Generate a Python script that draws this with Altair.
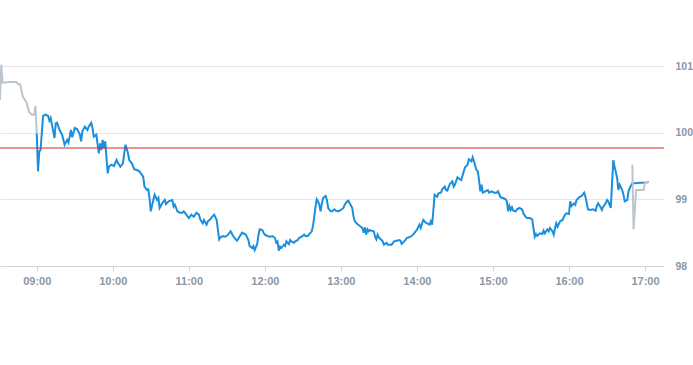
import altair as alt
import pandas as pd

DAY = "2024-01-02"

# Pre-market (grey)
pre_times = ["08:31", "08:32", "08:33", "08:39", "08:44", "08:45", "08:47", "08:49", "08:52", "08:54",
             "08:56", "08:58", "08:59", "09:00"]
pre_vals = [100.49, 101.02, 100.75, 100.76, 100.76, 100.73, 100.72, 100.54, 100.45, 100.31,
            100.27, 100.27, 100.40, 99.99]

# Regular session (blue)
reg_times = [
    "09:00", "09:01", "09:02", "09:03", "09:05", "09:07", "09:09", "09:10", "09:11", "09:12",
    "09:14", "09:15", "09:16", "09:18", "09:20", "09:22", "09:24", "09:25", "09:27", "09:28",
    "09:30", "09:32", "09:34", "09:35", "09:36", "09:38", "09:40", "09:41", "09:43", "09:44",
    "09:45", "09:47", "09:49", "09:50", "09:51", "09:52", "09:53", "09:54", "09:56", "09:57",
    "09:59", "10:01", "10:03", "10:04", "10:06", "10:08", "10:10", "10:12", "10:13", "10:15",
    "10:17", "10:19", "10:21", "10:24", "10:25", "10:27", "10:28", "10:29", "10:30", "10:32",
    "10:33", "10:35", "10:36", "10:37", "10:39", "10:41", "10:42", "10:44", "10:47", "10:48",
    "10:49", "10:51", "10:53", "10:55", "10:56", "10:58", "11:00", "11:02", "11:04", "11:06",
    "11:08", "11:09", "11:11", "11:12", "11:14", "11:15", "11:17", "11:18", "11:20", "11:22",
    "11:23", "11:24", "11:25", "11:27", "11:29", "11:31", "11:33", "11:35", "11:36", "11:38",
    "11:40", "11:42", "11:44", "11:45", "11:47", "11:48", "11:50", "11:51", "11:52", "11:54",
    "11:55", "11:56", "11:58", "11:59", "12:00", "12:02", "12:04", "12:06", "12:08", "12:09",
    "12:10", "12:11", "12:12", "12:13", "12:15", "12:16", "12:17", "12:19", "12:20", "12:21",
    "12:23", "12:24", "12:26", "12:27", "12:29", "12:31", "12:32", "12:34", "12:35", "12:37",
    "12:38", "12:39", "12:40", "12:41", "12:42", "12:43", "12:44", "12:45", "12:46", "12:48",
    "12:49", "12:50", "12:52", "12:53", "12:55", "12:56", "12:58", "13:00", "13:02", "13:03",
    "13:05", "13:06", "13:07", "13:09", "13:10", "13:11", "13:13", "13:15", "13:17", "13:18",
    "13:19", "13:20", "13:21", "13:22", "13:23", "13:24", "13:26", "13:27", "13:28", "13:29",
    "13:30", "13:32", "13:33", "13:34", "13:36", "13:37", "13:39", "13:40", "13:42", "13:44",
    "13:46", "13:47", "13:48", "13:49", "13:51", "13:52", "13:55", "13:57", "13:59", "14:00",
    "14:02", "14:03", "14:04", "14:05", "14:07", "14:08", "14:10", "14:11", "14:12", "14:13",
    "14:14", "14:16", "14:17", "14:19", "14:20", "14:22", "14:23", "14:24", "14:26", "14:28",
    "14:29", "14:30", "14:32", "14:34", "14:35", "14:37", "14:38", "14:40", "14:41", "14:43",
    "14:44", "14:45", "14:47", "14:48", "14:49", "14:50", "14:51", "14:52", "14:54", "14:56",
    "14:57", "14:59", "15:01", "15:03", "15:04", "15:06", "15:08", "15:10", "15:11", "15:12",
    "15:13", "15:14", "15:15", "15:16", "15:18", "15:19", "15:21", "15:23", "15:24", "15:26",
    "15:27", "15:29", "15:31", "15:32", "15:33", "15:34", "15:35", "15:37", "15:39", "15:40",
    "15:41", "15:43", "15:44", "15:45", "15:47", "15:48", "15:49", "15:50", "15:51", "15:53",
    "15:55", "15:56", "15:57", "15:58", "16:00", "16:01", "16:02", "16:04", "16:05", "16:06",
    "16:08", "16:10", "16:12", "16:13", "16:14", "16:15", "16:17", "16:19", "16:21", "16:22",
    "16:23", "16:25", "16:26", "16:27", "16:29", "16:30", "16:31", "16:33", "16:34", "16:35",
    "16:36", "16:38", "16:39", "16:40", "16:42", "16:43", "16:44", "16:46", "16:47", "16:48",
    "16:50", "16:52", "16:56", "17:00", "17:03",
]
reg_vals = [
    99.99, 99.42, 99.72, 99.74, 100.25, 100.27, 100.25, 100.18, 100.22, 100.12,
    99.92, 100.14, 100.15, 100.04, 99.97, 99.82, 99.89, 99.85, 100.04, 99.93,
    100.07, 100.05, 99.97, 99.87, 100.02, 100.09, 100.04, 100.09, 100.15, 100.07,
    99.94, 99.97, 99.69, 99.84, 99.74, 99.89, 99.77, 99.87, 99.39, 99.49,
    99.52, 99.50, 99.59, 99.55, 99.49, 99.54, 99.82, 99.69, 99.59, 99.54,
    99.45, 99.44, 99.42, 99.34, 99.19, 99.14, 99.15, 99.02, 98.82, 98.99,
    99.07, 98.99, 99.02, 98.87, 98.94, 98.99, 98.93, 98.97, 98.99, 98.89,
    98.92, 98.82, 98.80, 98.80, 98.82, 98.77, 98.72, 98.77, 98.74, 98.80,
    98.77, 98.70, 98.64, 98.69, 98.62, 98.67, 98.70, 98.73, 98.77, 98.69,
    98.54, 98.40, 98.43, 98.45, 98.44, 98.47, 98.52, 98.45, 98.42, 98.38,
    98.44, 98.50, 98.48, 98.47, 98.39, 98.30, 98.27, 98.30, 98.24, 98.33,
    98.47, 98.55, 98.54, 98.50, 98.47, 98.45, 98.44, 98.45, 98.42, 98.35,
    98.37, 98.23, 98.29, 98.27, 98.32, 98.30, 98.37, 98.33, 98.39, 98.37,
    98.35, 98.37, 98.39, 98.42, 98.44, 98.47, 98.45, 98.45, 98.48, 98.52,
    98.60, 98.74, 98.89, 99.00, 98.97, 98.92, 98.82, 98.94, 99.02, 99.05,
    98.99, 98.87, 98.82, 98.82, 98.85, 98.83, 98.82, 98.84, 98.87, 98.92,
    98.97, 98.98, 98.94, 98.87, 98.74, 98.67, 98.63, 98.60, 98.57, 98.50,
    98.58, 98.47, 98.55, 98.52, 98.54, 98.53, 98.52, 98.44, 98.40, 98.47,
    98.43, 98.39, 98.37, 98.32, 98.35, 98.32, 98.32, 98.32, 98.37, 98.38,
    98.39, 98.38, 98.33, 98.35, 98.39, 98.42, 98.44, 98.47, 98.52, 98.54,
    98.62, 98.57, 98.63, 98.69, 98.65, 98.64, 98.62, 98.67, 98.62, 98.84,
    99.07, 99.04, 99.09, 99.10, 99.15, 99.19, 99.14, 99.13, 99.23, 99.27,
    99.19, 99.22, 99.33, 99.30, 99.29, 99.42, 99.48, 99.52, 99.60, 99.57,
    99.63, 99.57, 99.44, 99.42, 99.30, 99.12, 99.22, 99.10, 99.12, 99.14,
    99.10, 99.12, 99.10, 99.10, 99.12, 99.03, 99.02, 99.00, 98.97, 98.82,
    98.90, 98.84, 98.88, 98.83, 98.82, 98.85, 98.87, 98.85, 98.79, 98.73,
    98.72, 98.72, 98.70, 98.57, 98.44, 98.48, 98.45, 98.49, 98.48, 98.53,
    98.49, 98.55, 98.52, 98.57, 98.52, 98.47, 98.57, 98.64, 98.59, 98.67,
    98.69, 98.74, 98.77, 98.79, 98.78, 98.97, 98.90, 98.94, 98.92, 98.99,
    99.03, 99.05, 99.10, 99.04, 98.95, 98.85, 98.84, 98.85, 98.83, 98.90,
    98.94, 98.88, 98.84, 98.89, 98.94, 98.99, 98.97, 98.87, 99.24, 99.59,
    99.49, 99.32, 99.14, 99.22, 99.14, 99.07, 98.97, 98.99, 99.12, 99.17,
    99.24, 99.24, 99.25, 99.25, 99.26,
]

# Post-market (grey)
post_times = ["16:50", "16:51", "16:53", "16:59", "17:00", "17:03"]
post_vals = [99.52, 98.55, 99.14, 99.14, 99.25, 99.26]

prev_close = 99.77
y_ticks = [98, 99, 100, 101]
x_tick_hours = [9, 10, 11, 12, 13, 14, 15, 16, 17]


def frame(times, vals, session):
    return pd.DataFrame({
        "t": [f"{DAY}T{t}:00" for t in times],
        "v": vals,
        "s": session,
    })


reg_df = frame(reg_times, reg_vals, "regular")
ext_df = pd.concat([frame(pre_times, pre_vals, "pre"), frame(post_times, post_vals, "post")])


def dt(h, m=0):
    return alt.DateTime(year=2024, month=1, date=2, hours=h, minutes=m)


LABEL_COLOR = "#8b97a3"
FONT = "Liberation Sans"

x_enc = alt.X(
    "t:T",
    scale=alt.Scale(domain=[dt(8, 31), dt(17, 15)]),
    axis=alt.Axis(
        values=[dt(h) for h in x_tick_hours],
        format="%H:%M",
        grid=False,
        domainColor="#ccd6dd",
        tickColor="#ccd6dd",
        tickSize=5,
        labelColor=LABEL_COLOR,
        labelFont=FONT,
        labelFontSize=11,
        labelFontWeight="bold",
        labelPadding=4,
        labelFlush=False,
        title=None,
    ),
)
y_enc = alt.Y(
    "v:Q",
    scale=alt.Scale(domain=[98, 101.99], nice=False, zero=False),
    axis=alt.Axis(
        orient="right",
        values=y_ticks,
        format="d",
        grid=True,
        gridColor="#e6e6e6",
        domain=False,
        ticks=False,
        labelPadding=11,
        labelAlign="left",
        labelColor=LABEL_COLOR,
        labelFont=FONT,
        labelFontSize=10.5,
        labelFontWeight="bold",
        title=None,
    ),
)

reg_line = alt.Chart(reg_df).mark_line(color="#1a8fdd", strokeWidth=2).encode(x=x_enc, y=y_enc)
ext_line = alt.Chart(ext_df).mark_line(color="#bcc5cd", strokeWidth=2).encode(
    x="t:T", y="v:Q", detail="s:N"
)
rule = alt.Chart(pd.DataFrame({"p": [prev_close]})).mark_rule(color="#d42a22", strokeWidth=1).encode(
    y="p:Q"
)

chart = alt.layer(reg_line, ext_line, rule).properties(
    width=664,
    height=266,
    padding={"left": 0, "top": 0, "right": 29, "bottom": 40},
    autosize=alt.AutoSizeParams(type="none"),
).configure_view(stroke=None)

chart.save("out.html", embed_options={"renderer": "svg", "actions": False})
